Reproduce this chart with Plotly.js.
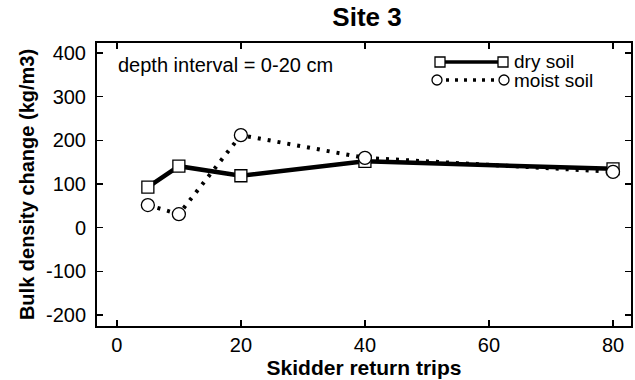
<!DOCTYPE html>
<html>
<head>
<meta charset="utf-8">
<script src="https://cdn.plot.ly/plotly-3.0.1.min.js"></script>
<style>html,body{margin:0;padding:0;background:#fff;}#chart{width:635px;height:380px;}</style>
</head>
<body>
<div id="chart"></div>
<script>
const trips = [5, 10, 20, 40, 80];
const drySoil = [93, 141, 119, 152, 135];
const moistSoil = [52, 31, 212, 160, 128];
const xTicks = [0, 20, 40, 60, 80];
const yTicks = [-200, -100, 0, 100, 200, 300, 400];
const seriesNames = ['dry soil', 'moist soil'];

const F = 'Liberation Sans, Arial, Helvetica, sans-serif';

const traces = [
  {x: trips, y: drySoil, mode: 'lines+markers', name: seriesNames[0],
   line: {color: '#000', width: 4.5},
   marker: {symbol: 'square', size: 12, color: '#fff', line: {color: '#000', width: 1.3}}},
  {x: trips, y: moistSoil, mode: 'lines+markers', name: seriesNames[1],
   line: {color: '#000', width: 4, dash: '3px,7px'},
   marker: {symbol: 'circle', size: 13, color: '#fff', line: {color: '#000', width: 1.3}}}
];

const L = 97, R = 631, T = 43, B = 326;
const px = v => (v - L) / (R - L);
const py = v => (B - v) / (B - T);

const shapes = [
  {type: 'line', xref: 'paper', yref: 'paper', x0: px(440), x1: px(503), y0: py(62), y1: py(62), line: {color: '#000', width: 3.5}},
  {type: 'line', xref: 'paper', yref: 'paper', x0: px(437), x1: px(504), y0: py(80), y1: py(80), line: {color: '#000', width: 3.5, dash: '3px,6px'}},
  {type: 'rect', xref: 'paper', yref: 'paper', xsizemode: 'pixel', ysizemode: 'pixel', xanchor: px(440), yanchor: py(62), x0: -5, x1: 5, y0: -5, y1: 5, fillcolor: '#fff', line: {color: '#000', width: 1.3}},
  {type: 'rect', xref: 'paper', yref: 'paper', xsizemode: 'pixel', ysizemode: 'pixel', xanchor: px(503), yanchor: py(62), x0: -5, x1: 5, y0: -5, y1: 5, fillcolor: '#fff', line: {color: '#000', width: 1.3}},
  {type: 'circle', xref: 'paper', yref: 'paper', xsizemode: 'pixel', ysizemode: 'pixel', xanchor: px(437), yanchor: py(80), x0: -5, x1: 5, y0: -5, y1: 5, fillcolor: '#fff', line: {color: '#000', width: 1.3}},
  {type: 'circle', xref: 'paper', yref: 'paper', xsizemode: 'pixel', ysizemode: 'pixel', xanchor: px(504), yanchor: py(80), x0: -5, x1: 5, y0: -5, y1: 5, fillcolor: '#fff', line: {color: '#000', width: 1.3}}
];

const annotations = [
  {text: 'depth interval = 0-20 cm', xref: 'paper', yref: 'paper', x: px(116), y: py(65), xanchor: 'left', yanchor: 'middle', showarrow: false, font: {family: F, size: 20, color: '#000'}},
  {text: seriesNames[0], xref: 'paper', yref: 'paper', x: px(512), y: py(61), xanchor: 'left', yanchor: 'middle', showarrow: false, font: {family: F, size: 19, color: '#000'}},
  {text: seriesNames[1], xref: 'paper', yref: 'paper', x: px(512), y: py(80), xanchor: 'left', yanchor: 'middle', showarrow: false, font: {family: F, size: 19, color: '#000'}}
];

const layout = {
  width: 635, height: 380,
  margin: {l: L, r: 635 - R, t: T, b: 380 - B},
  paper_bgcolor: '#fff', plot_bgcolor: '#fff',
  showlegend: false,
  font: {family: F, color: '#000'},
  title: {text: '<b>Site 3</b>', font: {family: F, size: 26, color: '#000'}, x: 0.578, xanchor: 'center', y: 0.955, yanchor: 'middle'},
  xaxis: {
    range: [-3.2, 82.9], tickvals: xTicks, ticktext: xTicks.map(String),
    ticks: 'inside', ticklen: 6, tickwidth: 1.5, tickcolor: '#000',
    showline: true, linewidth: 2, linecolor: '#000', mirror: 'ticks',
    showgrid: false, zeroline: false,
    tickfont: {family: F, size: 20, color: '#000'},
    title: {text: '<b>Skidder return trips</b>', font: {family: F, size: 21, color: '#000'}, standoff: 1}
  },
  yaxis: {
    range: [-225, 423], tickvals: yTicks, ticktext: yTicks.map(String),
    ticks: 'inside', ticklen: 6, tickwidth: 1.5, tickcolor: '#000',
    showline: true, linewidth: 2, linecolor: '#000', mirror: 'ticks',
    showgrid: false, zeroline: false, ticklabelstandoff: 5,
    tickfont: {family: F, size: 20, color: '#000'},
    title: {text: '<b>Bulk density change (kg/m3)</b>', font: {family: F, size: 20, color: '#000'}, standoff: 6}
  },
  shapes: shapes,
  annotations: annotations
};

Plotly.newPlot('chart', traces, layout, {displayModeBar: false, staticPlot: true});
</script>
</body>
</html>
